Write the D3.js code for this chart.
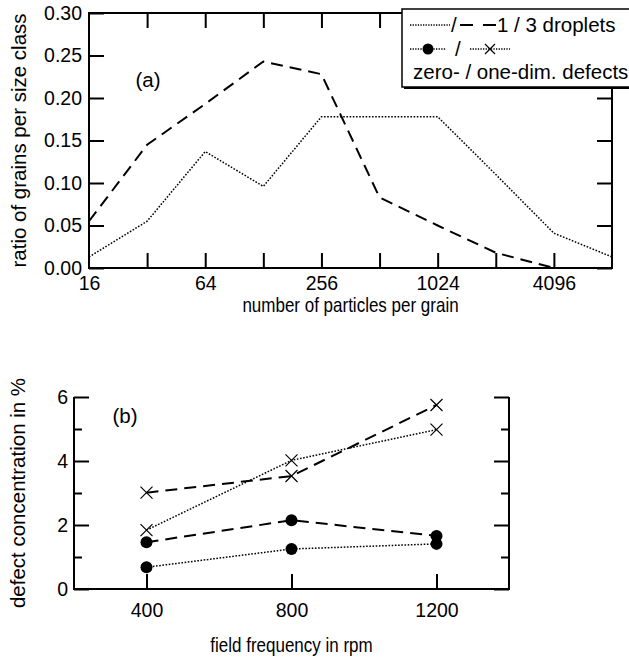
<!DOCTYPE html>
<html><head><meta charset="utf-8">
<script src="https://cdn.jsdelivr.net/npm/d3@7"></script>
<style>
html,body{margin:0;padding:0;background:#fff;}
svg text{font-family:"Liberation Sans",Arial,sans-serif;fill:#000;}
</style></head>
<body>
<svg id="c" width="629" height="661"></svg>
<script>
// ---------- data (a) ----------
const grainSizes = [16, 32, 64, 128, 256, 512, 1024, 2048, 4096, 8192];
const oneDroplet = [0.013, 0.055, 0.137, 0.096, 0.178, 0.178, 0.178, 0.11, 0.041, 0.013];
const threeDropletSizes = [16, 32, 64, 128, 256, 512, 1024, 2048, 4096];
const threeDroplets = [0.055, 0.145, 0.193, 0.243, 0.228, 0.083, 0.05, 0.018, 0.0];
const yTicksA = [0, 0.05, 0.10, 0.15, 0.20, 0.25, 0.30];
const xLabelsA = [16, 64, 256, 1024, 4096];

// ---------- data (b) ----------
const frequencies = [400, 800, 1200];
const zeroDim1 = [0.68, 1.25, 1.41];
const zeroDim3 = [1.46, 2.15, 1.66];
const oneDim1 = [1.84, 4.02, 4.98];
const oneDim3 = [3.01, 3.53, 5.75];
const yTicksB = [0, 1, 2, 3, 4, 5, 6];
const yLabelsB = [0, 2, 4, 6];

const svg = d3.select("#c");
const DOT = "1.6,1.6", DASH = "12,7";
const TICKFS = "19.5px";

function styleAxis(g) {
  g.select(".domain").remove();
  g.selectAll(".tick line").attr("stroke", "#000").attr("stroke-width", 2);
  g.selectAll(".tick text").style("font-family", "Liberation Sans, Arial, sans-serif")
    .attr("fill", "#000").style("font-size", TICKFS);
}
function hTitle(g, x, y, txt) {
  g.append("text").attr("transform", `translate(${x},${y}) scale(0.85,1)`)
    .attr("text-anchor", "middle").style("font-size", "20px").text(txt);
}
function vTitle(g, x, y, txt) {
  g.append("text").attr("transform", `translate(${x},${y}) rotate(-90)`)
    .attr("text-anchor", "middle").style("font-size", "20.5px").text(txt);
}

// ================= panel (a) =================
const A = {l: 89, r: 612, t: 13, b: 268};
const xA = d3.scaleLog().base(2).domain([16, 8192]).range([A.l, A.r]);
const yA = d3.scaleLinear().domain([0, 0.3]).range([A.b, A.t]);
const gA = svg.append("g");

const innerTicksA = grainSizes.slice(1, -1);
gA.append("g").attr("transform", `translate(0,${A.b})`)
  .call(d3.axisBottom(xA).tickValues(grainSizes).tickSize(0).tickPadding(8)
    .tickFormat(d => xLabelsA.includes(d) ? d : ""))
  .call(styleAxis);
gA.append("g").attr("transform", `translate(0,${A.b})`)
  .call(d3.axisBottom(xA).tickValues(innerTicksA).tickSize(-15).tickFormat(""))
  .call(styleAxis);
gA.append("g").attr("transform", `translate(0,${A.t})`)
  .call(d3.axisTop(xA).tickValues(innerTicksA).tickSize(-15).tickFormat(""))
  .call(styleAxis);
gA.append("g").attr("transform", `translate(${A.l},0)`)
  .call(d3.axisLeft(yA).tickValues(yTicksA).tickSize(-15).tickPadding(7).tickFormat(d3.format(".2f")))
  .call(styleAxis);
gA.append("g").attr("transform", `translate(${A.r},0)`)
  .call(d3.axisRight(yA).tickValues(yTicksA).tickSize(-15).tickFormat(""))
  .call(styleAxis);

const lineA = d3.line().x(d => xA(d[0])).y(d => yA(d[1]));
gA.append("path").datum(grainSizes.map((s, i) => [s, oneDroplet[i]]))
  .attr("d", lineA).attr("fill", "none").attr("stroke", "#000")
  .attr("stroke-width", 1.5).attr("stroke-dasharray", DOT);
gA.append("path").datum(threeDropletSizes.map((s, i) => [s, threeDroplets[i]]))
  .attr("d", lineA).attr("fill", "none").attr("stroke", "#000")
  .attr("stroke-width", 2).attr("stroke-dasharray", DASH);

gA.append("rect").attr("x", A.l).attr("y", A.t).attr("width", A.r - A.l).attr("height", A.b - A.t)
  .attr("fill", "none").attr("stroke", "#000").attr("stroke-width", 2);

gA.append("text").attr("x", 148).attr("y", 87).attr("text-anchor", "middle").style("font-size", "20.5px").text("(a)");
hTitle(gA, (A.l + A.r) / 2, 312, "number of particles per grain");
vTitle(gA, 26, (A.t + A.b) / 2, "ratio of grains per size class");

// ================= panel (b) =================
const B = {l: 74, r: 509, t: 397, b: 589};
const xB = d3.scaleLinear().domain([200, 1400]).range([B.l, B.r]);
const yB = d3.scaleLinear().domain([0, 6]).range([B.b, B.t]);
const gB = svg.append("g");

gB.append("g").attr("transform", `translate(0,${B.b})`)
  .call(d3.axisBottom(xB).tickValues(frequencies).tickSize(-15).tickPadding(14).tickFormat(d3.format("d")))
  .call(styleAxis);
gB.append("g").attr("transform", `translate(${B.l},0)`)
  .call(d3.axisLeft(yB).tickValues(yTicksB).tickSize(-15).tickPadding(6)
    .tickFormat(d => yLabelsB.includes(d) ? d : ""))
  .call(styleAxis)
  .call(g => g.selectAll(".tick line").attr("x2", d => yLabelsB.includes(d) ? 15 : 8));
gB.append("g").attr("transform", `translate(${B.r},0)`)
  .call(d3.axisRight(yB).tickValues(yTicksB).tickSize(-15).tickFormat(""))
  .call(styleAxis)
  .call(g => g.selectAll(".tick line").attr("x2", d => yLabelsB.includes(d) ? -15 : -8));

gB.append("path").attr("d", `M${B.l},${B.t}V${B.b}H${B.r}V${B.t}`)
  .attr("fill", "none").attr("stroke", "#000").attr("stroke-width", 2);

const lineB = d3.line().x(d => xB(d[0])).y(d => yB(d[1]));
const seriesB = [
  {v: zeroDim1, dash: DOT, w: 1.5, m: "dot"},
  {v: zeroDim3, dash: DASH, w: 2, m: "dot"},
  {v: oneDim1, dash: DOT, w: 1.5, m: "x"},
  {v: oneDim3, dash: DASH, w: 2, m: "x"}
];
seriesB.forEach(s => {
  const pts = frequencies.map((f, i) => [f, s.v[i]]);
  gB.append("path").datum(pts).attr("d", lineB).attr("fill", "none").attr("stroke", "#000")
    .attr("stroke-width", s.w).attr("stroke-dasharray", s.dash);
});
function marker(g, type, x, y, r) {
  if (type === "dot") {
    g.append("circle").attr("cx", x).attr("cy", y).attr("r", r).attr("fill", "#000");
  } else {
    g.append("path").attr("d", `M${x - r},${y - r}L${x + r},${y + r}M${x - r},${y + r}L${x + r},${y - r}`)
      .attr("stroke", "#000").attr("stroke-width", 1.2).attr("fill", "none");
  }
}
seriesB.forEach(s => frequencies.forEach((f, i) => marker(gB, s.m, xB(f), yB(s.v[i]), 6)));

gB.append("text").attr("x", 125).attr("y", 423).attr("text-anchor", "middle").style("font-size", "20.5px").text("(b)");
hTitle(gB, (B.l + B.r) / 2, 652, "field frequency in rpm");
vTitle(gB, 25, (B.t + B.b) / 2, "defect concentration in %");

// ================= legend =================
const L = svg.append("g");
L.append("rect").attr("x", 404).attr("y", 11).attr("width", 240).attr("height", 78).attr("fill", "#000");
L.append("rect").attr("x", 402).attr("y", 9).attr("width", 240).attr("height", 78)
  .attr("fill", "#fff").attr("stroke", "#000").attr("stroke-width", 1.5);
const ly = [25, 49, 72];
const LFS = "20.5px";
L.append("line").attr("x1", 410).attr("x2", 450).attr("y1", ly[0]).attr("y2", ly[0])
  .attr("stroke", "#000").attr("stroke-width", 1.3).attr("stroke-dasharray", "1.3,1.3");
L.append("text").attr("x", 451).attr("y", ly[0] + 7).style("font-size", LFS).text("/");
L.append("line").attr("x1", 460).attr("x2", 496).attr("y1", ly[0]).attr("y2", ly[0])
  .attr("stroke", "#000").attr("stroke-width", 2).attr("stroke-dasharray", "13,10");
L.append("text").attr("x", 497).attr("y", ly[0] + 7).style("font-size", LFS).text("1 / 3 droplets");
L.append("line").attr("x1", 410).attr("x2", 446).attr("y1", ly[1]).attr("y2", ly[1])
  .attr("stroke", "#000").attr("stroke-width", 1.3).attr("stroke-dasharray", "1.3,1.3");
marker(L, "dot", 428, ly[1], 5.5);
L.append("text").attr("x", 455).attr("y", ly[1] + 7).style("font-size", LFS).text("/");
L.append("line").attr("x1", 470).attr("x2", 510).attr("y1", ly[1]).attr("y2", ly[1])
  .attr("stroke", "#000").attr("stroke-width", 1.3).attr("stroke-dasharray", "1.3,1.3");
marker(L, "x", 490, ly[1], 5);
L.append("text").attr("x", 413).attr("y", ly[2] + 7).style("font-size", LFS).text("zero- / one-dim. defects");
</script>
</body></html>
